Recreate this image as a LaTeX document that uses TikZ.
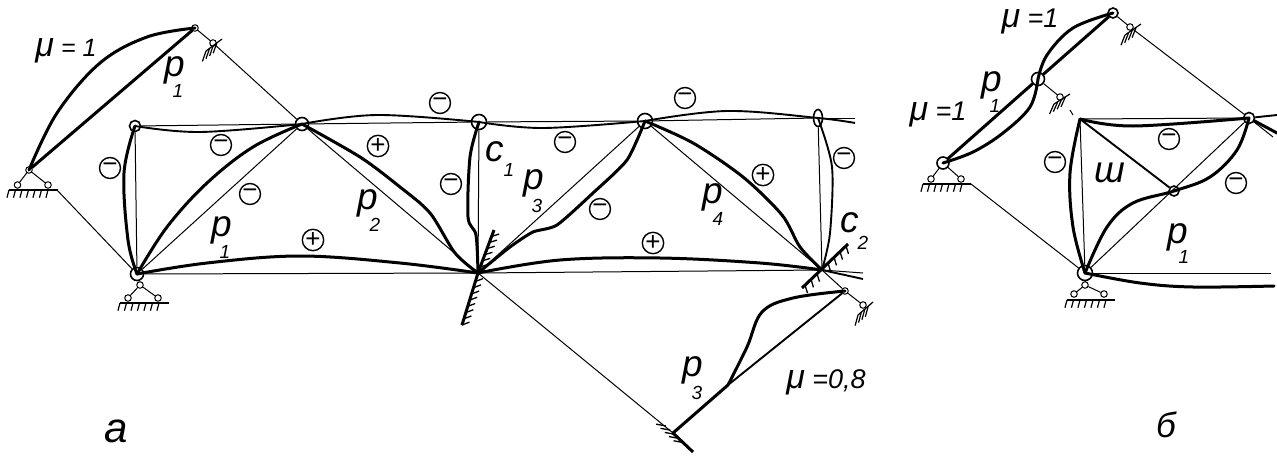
\documentclass[tikz,border=0pt]{standalone}
\usepackage{fontspec}
\setmainfont{Liberation Sans}
\usetikzlibrary{decorations.pathreplacing,shapes.geometric}
\newcommand{\mubig}{{\fontsize{34}{34}\selectfont μ}}
\tikzstyle{thinbar}=[line width=1pt]
\tikzstyle{midbar}=[line width=1.9pt]
\tikzstyle{fatbar}=[line width=3pt, line cap=round, line join=round]
\tikzstyle{joint}=[circle, draw=black, line width=1.6pt, inner sep=0pt, minimum size=11pt]
\tikzstyle{pin}=[circle, draw=black, fill=white, line width=1pt, inner sep=0pt, minimum size=6.5pt]
\tikzstyle{sgn}=[circle, draw=black, line width=1.4pt, inner sep=0pt, minimum size=21pt, font=\fontsize{26}{26}\selectfont]
\tikzstyle{ground}=[line width=1.5pt, postaction={draw, line width=1.2pt, decorate, decoration={border, segment length=6.5pt, amplitude=8pt, angle=-105}}]
\tikzstyle{fence}=[line width=1.2pt, postaction={draw, line width=1.2pt, decorate, decoration={border, segment length=4.5pt, amplitude=11pt, angle=-146}}]
\tikzstyle{wall}=[line width=3pt]
\tikzstyle{lab}=[font=\fontsize{37}{37}\selectfont\itshape, inner sep=0pt]
\tikzstyle{sublab}=[font=\fontsize{19}{19}\selectfont\itshape, inner sep=0pt]
\tikzstyle{mulab}=[font=\fontsize{27}{27}\selectfont\itshape, inner sep=0pt, anchor=base]
\tikzstyle{letter}=[font=\fontsize{35}{35}\selectfont\itshape, inner sep=0pt]

\begin{document}
\begin{tikzpicture}[x=1pt,y=-1pt]
\useasboundingbox (0,0) rectangle (1277,460);
% frame a
\node[joint] (n1) at (135,126) {};
\node[joint, minimum size=13pt] (n2) at (302,124) {};
\node[joint, minimum size=15pt] (n3) at (479,122) {};
\node[joint, minimum size=15pt] (n4) at (645,121) {};
\node[ellipse, draw=black, line width=1.6pt, inner sep=0pt, minimum width=9pt, minimum height=17pt] (n5) at (818,118) {};
\node[joint, minimum size=13pt] (b1) at (137,274) {};
\node[inner sep=0pt, minimum size=2pt] (b2) at (478,273) {};
\node[inner sep=0pt, minimum size=2pt] (b3) at (822,270) {};
\coordinate (endt) at (855,118);
\coordinate (endb) at (863,273);
\draw[thinbar] (n1) -- (n2);
\draw[thinbar] (n2) -- (n3);
\draw[thinbar] (n3) -- (n4);
\draw[thinbar] (n4) -- (n5);
\draw[thinbar] (n5) -- (endt);
\draw[thinbar] (b1) -- (b2);
\draw[thinbar] (b2) -- (b3);
\draw[thinbar] (b3) -- (endb);
\draw[thinbar] (n1) -- (b1);
\draw[thinbar] (n3) -- (b2);
\draw[thinbar] (n5) -- (b3);
\draw[thinbar] (b1) -- (n2);
\draw[thinbar] (n2) -- (b2);
\draw[thinbar] (b2) -- (n4);
\draw[thinbar] (n4) -- (b3);
% moment curves of a
\draw[fatbar] plot[smooth, tension=.6] coordinates {(n1) (124,173) (128,240) (b1)};
\draw[midbar] plot[smooth, tension=.6] coordinates {(n1) (200,132) (n2)};
\draw[fatbar] plot[smooth, tension=.6] coordinates {(b1) (167,227) (207,183) (253,147) (n2)};
\draw[fatbar] plot[smooth, tension=.5] coordinates {(n2) (360,157) (400,187) (430,213) (455,253) (b2)};
\draw[midbar] plot[smooth, tension=.6] coordinates {(n2) (377,115) (n3)};
\draw[fatbar] plot[smooth, tension=.6] coordinates {(b1) (207,263) (300,256) (400,263) (b2)};
\draw[fatbar] plot[smooth, tension=.5] coordinates {(n3) (470,157) (468,217) (476,235) (b2)};
\draw[midbar] plot[smooth, tension=.6] coordinates {(n3) (543,128) (n4)};
\draw[fatbar] plot[smooth, tension=.4] coordinates {(b2) (510,247) (533,232) (557,225) (593,193) (627,160) (n4)};
\draw[midbar] plot[smooth, tension=.6] coordinates {(n4) (727,111) (n5) (855,123)};
\draw[fatbar] plot[smooth, tension=.5] coordinates {(n4) (693,143) (743,177) (782,215) (800,247) (b3)};
\draw[midbar] plot[smooth, tension=.5] coordinates {(n5) (832,167) (830,233) (b3)};
\draw[fatbar] plot[smooth, tension=.6] coordinates {(b2) (560,260) (660,258) (760,263) (b3)};
\draw[midbar] plot[smooth, tension=.6] coordinates {(b3) (863,279)};
% cantilever part of a
\node[pin] (ta) at (195,28) {};
\node[pin] (ts) at (213,43) {};
\node[pin] (sa) at (29,170) {};
\node[pin] (sa1) at (17.5,185) {};
\node[pin] (sa2) at (48,185) {};
\coordinate (lg) at (57,190);
\draw[thinbar] (ta) -- (ts);
\draw[thinbar] (ts) -- (n2);
\draw[thinbar] (lg) -- (b1);
\draw[thinbar] (sa) -- (sa1);
\draw[thinbar] (sa) -- (sa2);
\draw[fatbar] (sa) -- (ta);
\draw[fatbar] plot[smooth, tension=.6] coordinates {(sa) (57,113) (100,63) (147,37) (ta)};
\draw[ground] (9,190) -- (58,190);
\draw[fence] (206,51) -- (222,39);
% supports of a
\node[pin] (bs) at (140,285) {};
\node[pin] (bs1) at (128,298) {};
\node[pin] (bs2) at (158,298) {};
\draw[thinbar] (b1) -- (bs);
\draw[thinbar] (bs) -- (bs1);
\draw[thinbar] (bs) -- (bs2);
\draw[ground] (120,303) -- (169,303);
\draw[wall, postaction={draw, line width=1.3pt, decorate, decoration={border, segment length=6.5pt, amplitude=8pt, angle=-52}}] (462,325) -- (478,273);
\draw[wall, postaction={draw, line width=1.3pt, decorate, decoration={border, segment length=6.5pt, amplitude=8pt, angle=-52}}] (478,273) -- (494,230);
\draw[wall] (802,288) -- (848,244);
\foreach \tx in {805,811,817,828,834,840,846}
  \draw[line width=1.3pt] (\tx,{288-(\tx-802)*0.957}) -- ++(2.5,8);
% lower part of a
\node[pin] (rp) at (845,291) {};
\node[pin] (rs) at (863,305) {};
\coordinate (bf) at (673,433);
\coordinate (kink) at (728,385);
\draw[thinbar] (b3) -- (rp);
\draw[thinbar] (rp) -- (rs);
\draw[thinbar] (b2) -- (bf);
\draw[midbar] (kink) -- (rp);
\draw[fatbar] (bf) -- (kink);
\draw[fatbar] plot[smooth, tension=.6] coordinates {(rp) (793,298) (762,312) (747,347) (kink)};
\draw[fence] (858,315) -- (873,302);
\draw[wall] (bf) -- (693,452);
\draw[line width=1.3pt, decoration={border, segment length=6pt, amplitude=10pt, angle=-147}, decorate] (666,426) -- (690,449);
% signs of a
\node[sgn] (s1) at (110,168) {−};
\node[sgn] (s2) at (221,145) {−};
\node[sgn] (s3) at (250,194) {−};
\node[sgn] (s4) at (440,103) {−};
\node[sgn] (s5) at (378,146) {+};
\node[sgn] (s6) at (451,184) {−};
\node[sgn] (s7) at (313,240) {+};
\node[sgn] (s8) at (565,142) {−};
\node[sgn] (s9) at (600,209) {−};
\node[sgn] (s10) at (685,98) {−};
\node[sgn] (s11) at (763,175) {+};
\node[sgn] (s12) at (844,158) {−};
\node[sgn] (s13) at (653,243) {+};
% labels of a
\node[mulab, font=\fontsize{25}{25}\selectfont\itshape] (mu1) at (66,57) {\mubig{} = 1};
\node[lab] (p1a) at (175,70) {p};
\node[sublab] (p1as) at (178,91) {1};
\node[lab] (p1b) at (222,230) {p};
\node[sublab] (p1bs) at (225,252) {1};
\node[lab] (p2) at (368,203) {p};
\node[sublab] (p2s) at (375,225) {2};
\node[lab] (c1) at (495,152) {c};
\node[sublab] (c1s) at (509,170) {1};
\node[lab] (p3) at (534,183) {p};
\node[sublab] (p3s) at (537,206) {3};
\node[lab] (p4) at (713,197) {p};
\node[sublab] (p4s) at (718,219) {4};
\node[lab] (c2) at (850,223) {c};
\node[sublab] (c2s) at (863,243) {2};
\node[lab] (p3b) at (693,370) {p};
\node[sublab] (p3bs) at (697,393) {3};
\node[mulab] (mu2) at (826,388) {\mubig{} =0,8};
\node[letter, font=\fontsize{42}{42}\selectfont\itshape] (ltra) at (116,431) {а};
% frame b
\node[joint, minimum size=10pt] (c0) at (1113,13) {};
\node[pin] (cs) at (1130,27) {};
\node[joint, minimum size=13pt] (c1n) at (1038,79) {};
\node[pin] (cm) at (1060,97) {};
\node[joint, minimum size=12pt] (c2n) at (943,163) {};
\node[pin] (cl1) at (931,179) {};
\node[pin] (cl2) at (961,179) {};
\coordinate (cg) at (971,184);
\node[inner sep=0pt, minimum size=2pt] (w) at (1080,119) {};
\node[joint, minimum size=11pt] (wr) at (1249,118) {};
\node[joint, minimum size=10pt] (wi) at (1174,191) {};
\node[joint, minimum size=15pt] (wb) at (1085,273) {};
\node[pin] (wp) at (1085,285) {};
\node[pin] (wp1) at (1074,294) {};
\node[pin] (wp2) at (1104,294) {};
\coordinate (re1) at (1277,115);
\coordinate (re2) at (1277,133);
\coordinate (re3) at (1273,137);
\coordinate (re4) at (1271,273);
\coordinate (re5) at (1274,286);
\coordinate (mk1) at (1070,110);
\coordinate (mk2) at (1073,115);
\draw[thinbar] (c0) -- (cs);
\draw[thinbar] (cs) -- (wr);
\draw[thinbar] (c1n) -- (cm);
\draw[thinbar] (mk1) -- (mk2);
\draw[thinbar] (cg) -- (wb);
\draw[thinbar] (c2n) -- (cl1);
\draw[thinbar] (c2n) -- (cl2);
\draw[fatbar] (c0) -- (c1n);
\draw[fatbar] (c1n) -- (c2n);
\draw[fatbar] plot[smooth, tension=.6] coordinates {(c0) (1073,28) (1047,55) (c1n)};
\draw[fatbar] plot[smooth, tension=.6] coordinates {(c1n) (1030,107) (1003,133) (973,152) (c2n)};
\draw[ground] (923,184) -- (971,184);
\draw[fence] (1125,35) -- (1141,24);
\draw[fence] (1054,104) -- (1070,94);
\draw[thinbar] (w) -- (wr);
\draw[fatbar] plot[smooth, tension=.6] coordinates {(w) (1133,126) (wr)};
\draw[midbar] (w) -- (wi);
\draw[thinbar] (w) -- (wb);
\draw[fatbar] plot[smooth, tension=.6] coordinates {(w) (1070,173) (1073,227) (wb)};
\draw[thinbar] (wb) -- (wr);
\draw[fatbar] plot[smooth, tension=.6] coordinates {(wb) (1107,227) (1133,203) (wi) (1210,177) (1237,150) (wr)};
\draw[midbar] (wr) -- (re1);
\draw[fatbar] (wr) -- (re2);
\draw[thinbar] (wr) -- (re3);
\draw[thinbar] (wb) -- (re4);
\draw[fatbar] plot[smooth, tension=.6] coordinates {(wb) (1140,283) (1193,287) (re5)};
\draw[thinbar] (wb) -- (wp);
\draw[thinbar] (wp) -- (wp1);
\draw[thinbar] (wp) -- (wp2);
\draw[ground] (1067,300) -- (1115,300);
% signs of b
\node[sgn] (t1) at (1055,162) {−};
\node[sgn] (t2) at (1169,139) {−};
\node[sgn] (t3) at (1236,183) {−};
% labels of b
\node[mulab] (mu3) at (1030,28) {\mubig{} =1};
\node[lab] (p1c) at (992,85) {p};
\node[sublab] (p1cs) at (995,106) {1};
\node[mulab] (mu4) at (938,121) {\mubig{} =1};
\node[lab] (sh) at (1110,173) {ш};
\node[lab] (p1d) at (1178,237) {p};
\node[sublab] (p1ds) at (1184,257) {1};
\node[letter] (lb) at (1166,425) {б};
\end{tikzpicture}
\end{document}
